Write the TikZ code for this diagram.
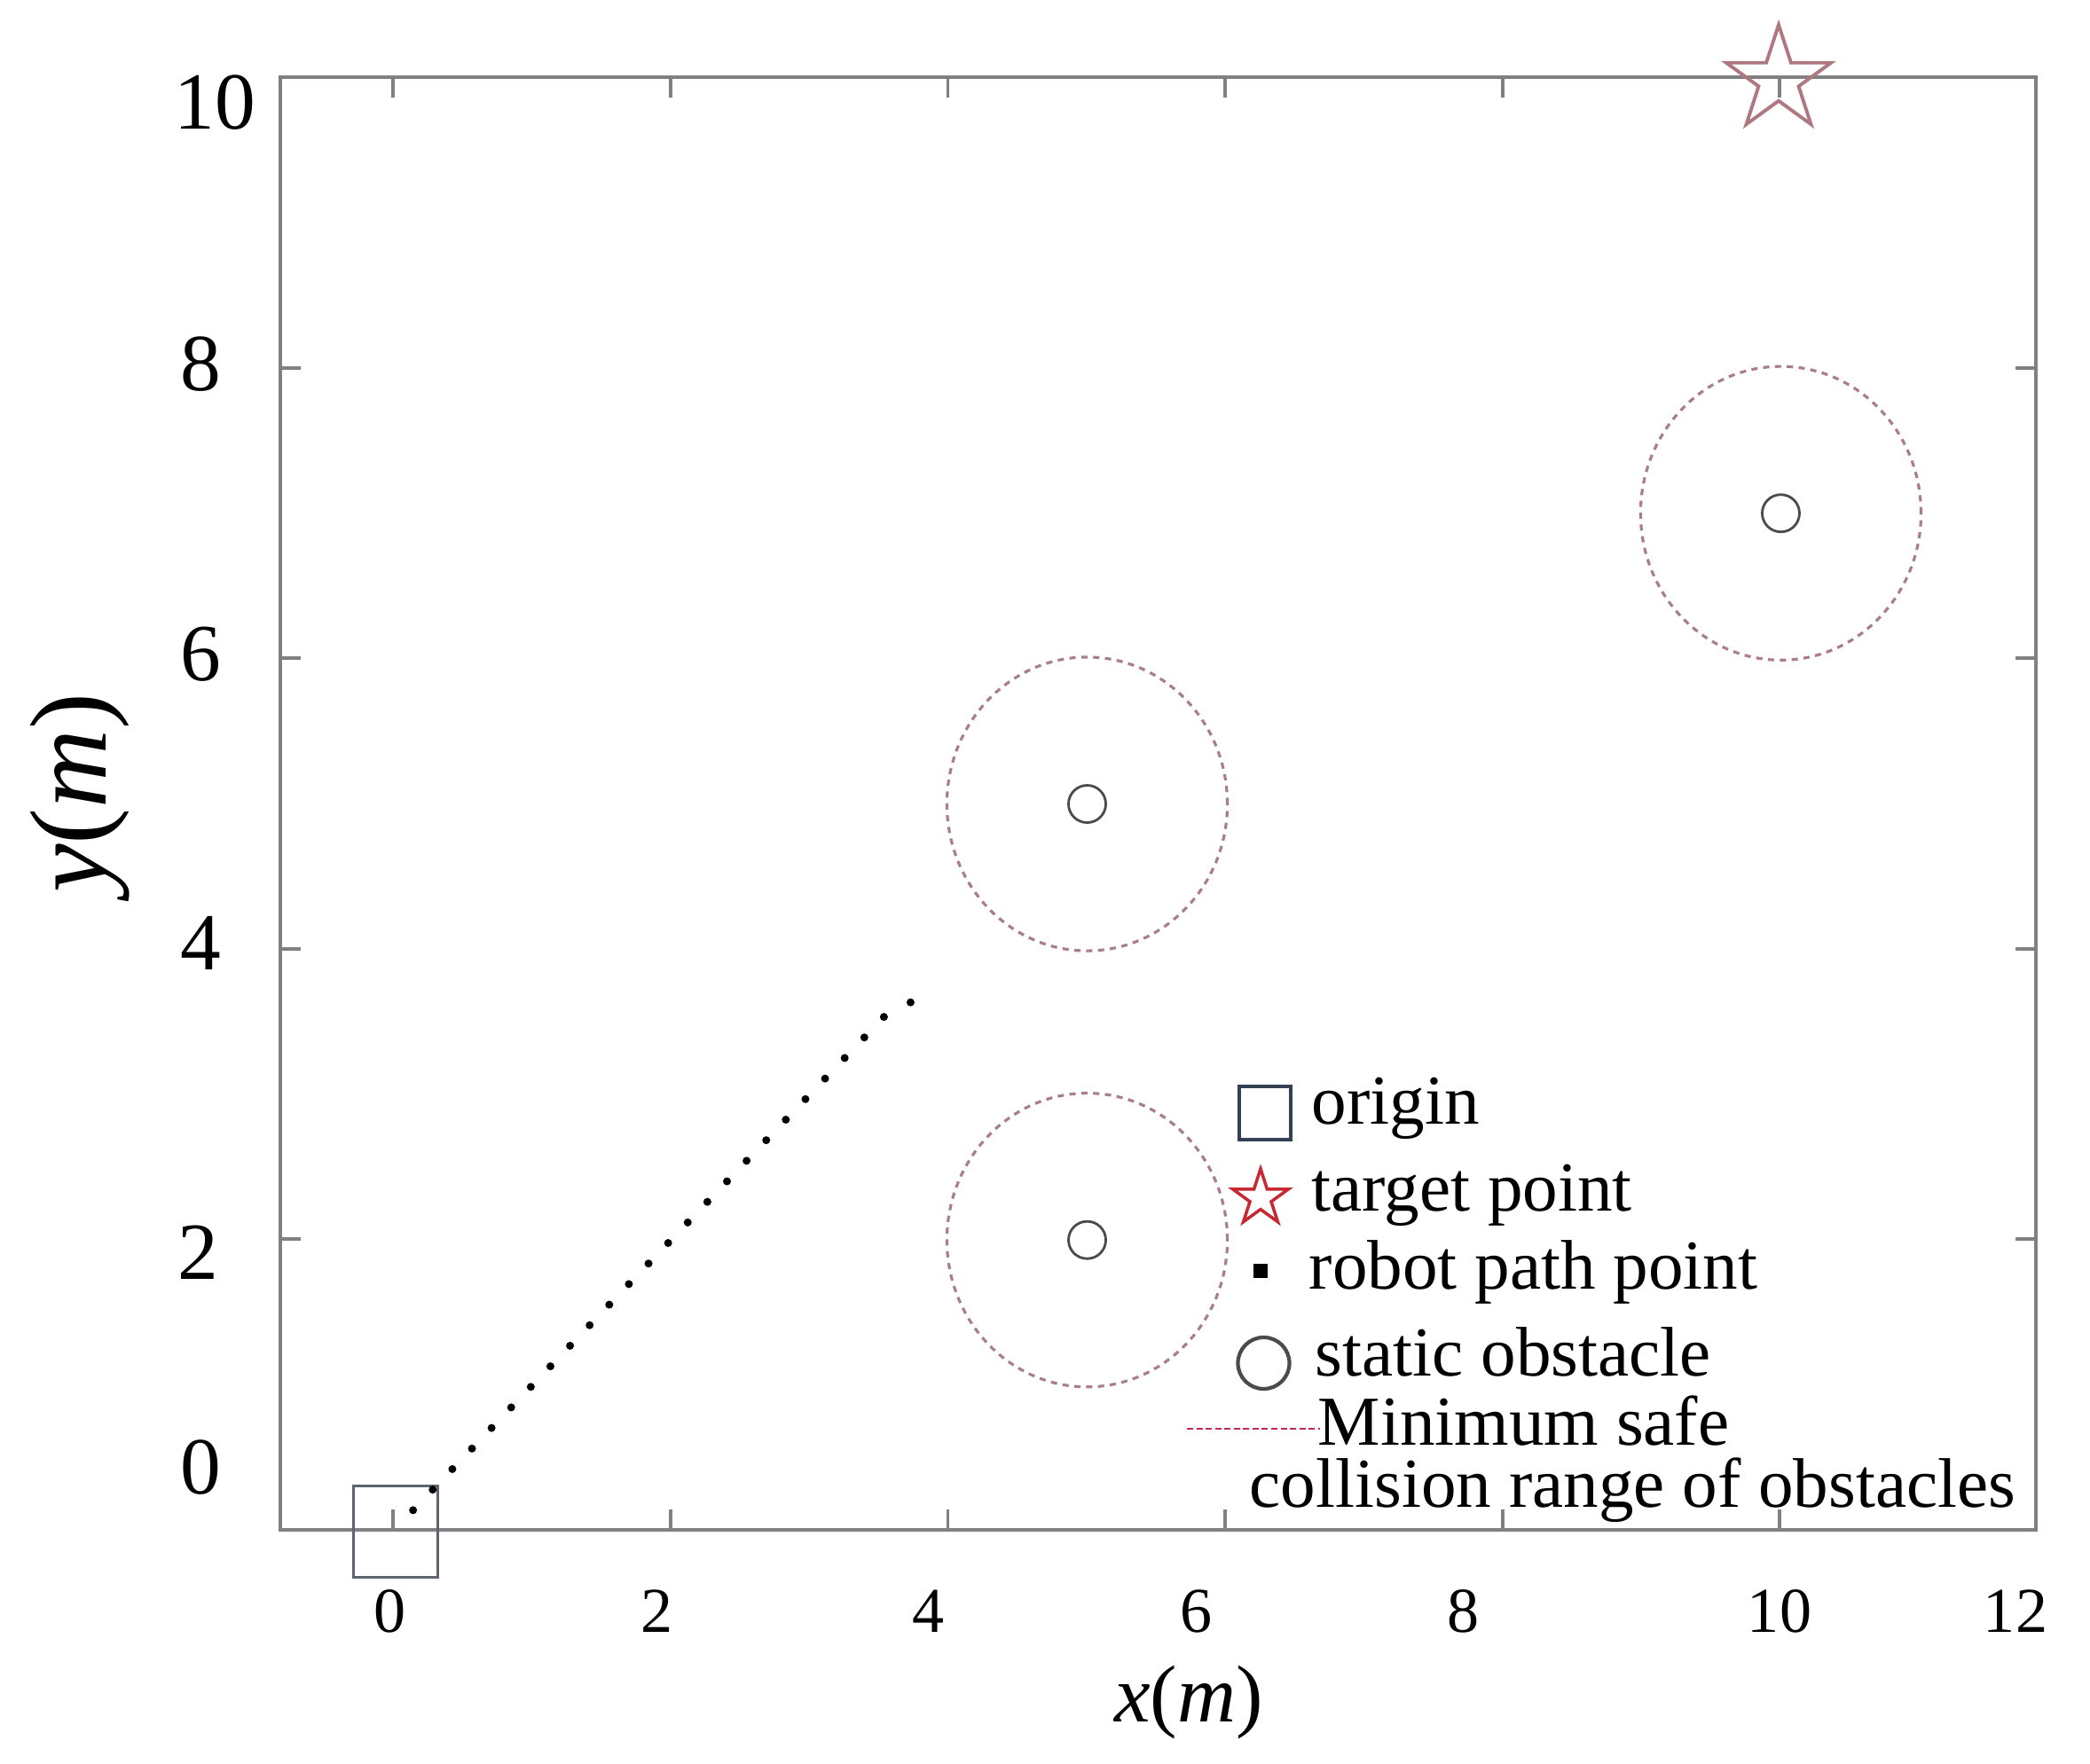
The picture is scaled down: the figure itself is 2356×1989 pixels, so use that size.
\documentclass[tikz,border=0pt]{standalone}
\usepackage{fontspec}
\setmainfont{Liberation Serif}
\definecolor{axgray}{RGB}{128,128,128}
\definecolor{safecol}{RGB}{170,125,140}
\definecolor{obstcol}{RGB}{75,75,75}
\definecolor{bigstarcol}{RGB}{175,120,128}
\definecolor{legred}{RGB}{200,40,50}
\definecolor{legsqcol}{RGB}{50,65,85}
\definecolor{origcol}{RGB}{95,100,115}
\definecolor{legdashcol}{RGB}{200,40,80}
\newcommand{\pentastar}[4]{%
  \draw[#4] #1 +(90:#2) -- +(126:#3) -- +(162:#2) -- +(198:#3) -- +(234:#2) -- +(270:#3) -- +(306:#2) -- +(342:#3) -- +(18:#2) -- +(54:#3) -- cycle;}
\begin{document}
\begin{tikzpicture}[x=0.01cm,y=-0.01cm,
  axisline/.style={draw=axgray, line width=1.3pt},
  tickmark/.style={draw=axgray, line width=1.1pt},
  ytick/.style={font=\fontsize{26}{30}\selectfont, inner sep=0},
  xtick/.style={font=\fontsize{20.5}{24}\selectfont, inner sep=0},
  legtext/.style={font=\fontsize{22.5}{27}\selectfont, anchor=base west, inner sep=0},
  safezone/.style={draw=safecol, line width=0.9pt, dash pattern=on 2pt off 1.8pt},
  obst/.style={draw=obstcol, line width=0.8pt},
  pathdot/.style={fill=black},
]
\useasboundingbox[fill=white] (0,0) rectangle (2356,1989);

% axes box and ticks
\draw[axisline] (316,87) rectangle (2295,1725);
\foreach \X in {0,2,...,10} {
  \draw[tickmark] ({443.3+156.3*\X},1725) -- ++(0,-23);
  \draw[tickmark] ({443.3+156.3*\X},87) -- ++(0,23);
}
\foreach \Y in {2,4,6,8} {
  \draw[tickmark] (316,{1725-163.8*\Y}) -- ++(23,0);
  \draw[tickmark] (2295,{1725-163.8*\Y}) -- ++(-23,0);
}

% y tick labels
\node[ytick] (y10) at (242,116) {10};
\node[ytick] (y8) at (226,411) {8};
\node[ytick] (y6) at (226,738) {6};
\node[ytick] (y4) at (226,1063) {4};
\node[ytick] (y2) at (223,1412) {2};
\node[ytick] (y0) at (226,1655) {0};

% x tick labels
\node[xtick] (x0) at (440,1817) {0};
\node[xtick] (x2) at (741,1817) {2};
\node[xtick] (x4) at (1047,1817) {4};
\node[xtick] (x6) at (1349,1817) {6};
\node[xtick] (x8) at (1650,1817) {8};
\node[xtick] (x10) at (2006,1817) {10};
\node[xtick] (x12) at (2272,1817) {12};

% axis titles
\node[inner sep=0, font=\fontsize{26}{30}\selectfont] (xlab) at (1340,1920) {\textit{x}(\textit{m})};
\node[inner sep=0, rotate=90, font=\fontsize{35}{40}\selectfont] (ylab) at (90,894) {\textit{y}(\textit{m})};

% data scope
\begin{scope}[shift={(4.433cm,-17.25cm)}, x=1.563cm, y=1.638cm]
  % obstacles
  \foreach \cx/\cy in {5/2, 5/5, 10/7} {
    \draw[safezone] (\cx,\cy) ellipse [x radius=1.58cm, y radius=1.655cm];
    \draw[obst] (\cx,\cy) circle [radius=0.21cm];
  }
  % origin square
  \draw[origcol, line width=0.85pt] (-0.29,-0.32) rectangle (0.32,0.31);
  % robot path points
  \foreach \k in {1,...,25} {
    \fill[pathdot] ({0.1414*\k},{0.1414*\k}) circle [radius=0.045cm];
  }
  \fill[pathdot] (3.727,3.635) circle [radius=0.045cm];
\end{scope}

% target star
\pentastar{(2005,90)}{0.62cm}{0.237cm}{draw=bigstarcol, line width=1.1pt, line join=miter}

% legend
\draw[legsqcol, line width=1.1pt] (1397,1225) rectangle (1455,1285);
\node[legtext] (lorigin) at (1478,1268) {origin};
\pentastar{(1421,1351)}{0.33cm}{0.126cm}{draw=legred, line width=1.0pt}
\node[legtext] (ltarget) at (1478,1366) {target point};
\fill[black] (1413,1425) rectangle (1429,1441);
\node[legtext] (lpath) at (1475,1454) {robot path point};
\draw[obstcol, line width=1.2pt] (1424.5,1537) circle [radius=0.29cm];
\node[legtext] (lstatic) at (1482,1552) {static obstacle};
\coordinate (dashA) at (1338,1611);
\coordinate (dashB) at (1488,1611);
\draw[legdashcol, line width=0.8pt, dash pattern=on 2pt off 1pt] (dashA) -- (dashB);
\node[legtext] (lmin) at (1485,1630) {Minimum safe};
\node[legtext] (lcoll) at (1408,1700) {collision range of obstacles};
\end{tikzpicture}
\end{document}
